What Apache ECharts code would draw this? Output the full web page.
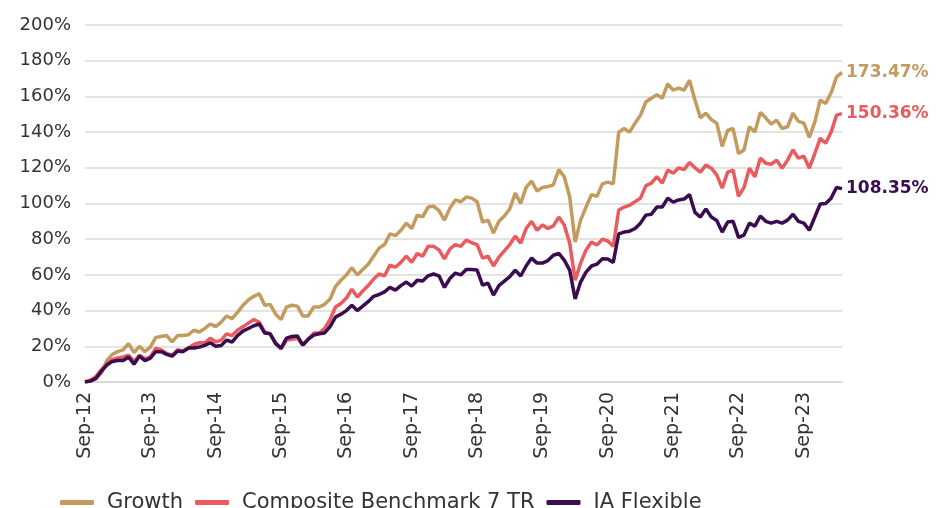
<!DOCTYPE html>
<html>
<head>
<meta charset="utf-8">
<script src="https://cdn.jsdelivr.net/npm/echarts@6/dist/echarts.min.js"></script>
<style>
  html, body { margin: 0; padding: 0; background: #fff; }
  #chart { width: 939px; height: 508px; }
</style>
</head>
<body>
<div id="chart"></div>
<script>
// monthly points, Sep-12 .. Apr-24
const monthNames = ['Jan','Feb','Mar','Apr','May','Jun','Jul','Aug','Sep','Oct','Nov','Dec'];
const categories = [];
for (let i = 0; i < 140; i++) {
  const m = (8 + i) % 12;
  const y = 12 + Math.floor((8 + i) / 12);
  categories.push(monthNames[m] + '-' + y);
}

const growth = [
  0, 1, 2, 5, 12, 15.5, 17, 18, 21.5, 16.5, 20, 17,
  19.5, 25, 25.5, 26, 22.5, 26, 26, 26.5, 29, 28, 30, 32.5,
  31, 33.5, 37, 35.5, 39, 43, 46, 48, 49.5, 43, 43.5, 38,
  35, 42, 43, 42.5, 37, 37, 42, 42, 43.5, 46.5, 53.5, 57,
  60, 64, 60, 63, 66, 70.5, 75, 77, 83, 82, 85, 89,
  86, 93.5, 92.5, 98, 98.5, 96, 90.7, 97.4, 102, 101, 103.6, 103,
  101, 89.6, 90.7, 83.4, 90, 93, 97, 105.8, 100, 109, 112.5, 107,
  109, 109.5, 110.5, 119, 115, 103.6, 78.4, 90.7, 98, 105, 104, 111,
  112, 111, 140, 142, 140, 145, 149.5, 157, 159, 161, 159, 167,
  163.5, 164.6, 163.5, 169, 158, 148, 150.6, 147, 145, 132, 141, 142,
  128, 130, 143, 140, 151, 148, 144.5, 146.7, 142, 143, 150.6, 146,
  145, 137, 145.6, 158, 156, 162, 171, 173.47
];

const composite = [
  0, 1, 3, 7, 10, 12.5, 13.5, 14, 15, 11.5, 15, 13,
  14, 19, 18, 16, 15, 18, 17.5, 19, 21, 22, 22, 24.5,
  22.5, 23.5, 27, 26, 29, 31, 33, 35, 33.5, 28, 27, 22,
  18.5, 23.5, 24, 24.5, 20.7, 24, 27.4, 27.4, 30, 35, 42, 44,
  47, 52, 47.6, 51, 54, 57.7, 60.5, 59.5, 65.5, 64.4, 67, 70.5,
  67, 72, 70.5, 76, 76, 74, 69, 74.5, 77, 76, 79.5, 78,
  77, 69.4, 70.5, 65, 70, 73.5, 77, 81.7, 77.8, 86, 90, 85,
  88, 86, 87.5, 92.4, 88, 77.8, 57, 66.6, 74, 78.4, 76.7, 80,
  79, 76, 96.3, 98, 99, 101, 103, 110, 111.4, 115, 111.4, 118.7,
  117, 120, 119, 123, 120, 117.6, 121.5, 119.8, 116, 108.6, 117.6, 118.7,
  104, 109, 119.8, 115, 125.4, 122.6, 122, 124.3, 119.8, 124.3, 130, 125.4,
  126.5, 119.8, 128, 136.6, 133.8, 140, 149.5, 150.36
];

const flexible = [
  0, 0.5, 2, 6, 9.5, 11.5, 12, 12, 14, 10, 14.5, 12,
  13.4, 17, 17, 15.5, 14.5, 17.4, 17, 19, 19, 19.6, 20.5, 22,
  20, 20.5, 23.5, 22.4, 26, 28.5, 30, 31.5, 32.5, 27.4, 27, 21.5,
  19, 24.6, 25.5, 25.8, 20.7, 24, 26.3, 27, 27.5, 31, 36.4, 38,
  40, 43, 40, 42.5, 45, 48, 49, 50.5, 53, 51.5, 54, 56,
  53.7, 57, 56.6, 59.5, 60.5, 59.5, 53, 58, 61, 60, 63, 63,
  62.7, 54.3, 55.4, 48.7, 54, 56.5, 59, 62.7, 59.4, 65, 69.4, 66.6,
  66.6, 68, 71, 72, 68.3, 62.7, 46.5, 56, 61.6, 65, 66, 69,
  68.9, 67, 83, 84, 84.5, 86, 89, 93.5, 94, 98, 98, 103,
  100.8, 102, 102.5, 105, 95, 92.4, 97, 92.4, 90.5, 84, 89.6, 90,
  81, 82.3, 89, 87.3, 93, 90, 89, 90, 89, 90.7, 94, 90,
  89, 85, 92.4, 99.7, 100, 103, 109, 108.35
];

const seriesNames = ['Growth', 'Composite Benchmark 7 TR', 'IA Flexible'];
const colors = ['#C39B5E', '#EA5B5E', '#3A0C50'];

const myChart = echarts.init(document.getElementById('chart'));

function makeSeries(name, data, color) {
  return {
    name: name,
    type: 'line',
    data: data,
    showSymbol: false,
    lineStyle: { width: 3.5, color: color },
    itemStyle: { color: color },
    endLabel: {
      show: true,
      color: color,
      fontWeight: 'bold',
      fontSize: 17,
      fontFamily: 'DejaVu Sans',
      distance: 4,
      formatter: function (p) { return p.value.toFixed(2) + '%'; }
    }
  };
}

const option = {
  animation: false,
  color: colors,
  grid: {
    left: 85,
    right: 97,
    top: 25,
    bottom: 126
  },
  legend: {
    bottom: -10,
    left: 55,
    icon: 'roundRect',
    itemWidth: 34,
    itemHeight: 5,
    itemGap: 12,
    textStyle: { fontSize: 21, color: '#333', fontFamily: 'DejaVu Sans', padding: [0, 0, 0, 8] },
    data: seriesNames
  },
  xAxis: {
    type: 'category',
    boundaryGap: false,
    data: categories,
    axisLine: { lineStyle: { color: '#D9D9D9', width: 2 } },
    axisTick: { show: false },
    axisLabel: {
      interval: 11,
      rotate: 90,
      fontSize: 19,
      color: '#333',
      fontFamily: 'DejaVu Sans',
      margin: 10
    }
  },
  yAxis: {
    type: 'value',
    min: 0,
    max: 200,
    interval: 20,
    axisLine: { show: false },
    axisTick: { show: false },
    splitLine: { lineStyle: { color: '#E3E3E3', width: 2 } },
    axisLabel: {
      formatter: '{value}%',
      fontSize: 18,
      color: '#333',
      fontFamily: 'DejaVu Sans',
      margin: 14
    }
  },
  series: [
    makeSeries(seriesNames[0], growth, colors[0]),
    makeSeries(seriesNames[1], composite, colors[1]),
    makeSeries(seriesNames[2], flexible, colors[2])
  ]
};

myChart.setOption(option);
window.addEventListener('resize', function () {
  myChart.resize();
});
</script>
</body>
</html>
